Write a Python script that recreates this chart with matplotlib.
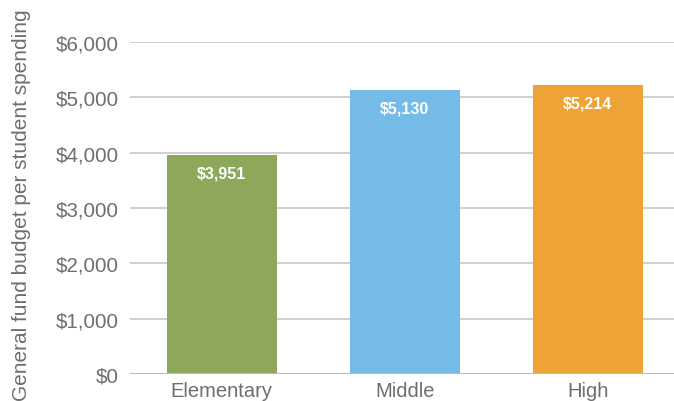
import matplotlib
matplotlib.use("Agg")
import matplotlib.pyplot as plt
from matplotlib.ticker import FuncFormatter

categories = ["Elementary", "Middle", "High"]
values = [3951, 5130, 5214]
colors = ["#8DA85B", "#74BCE7", "#EDA336"]
yticks = [0, 1000, 2000, 3000, 4000, 5000, 6000]

plt.rcParams['font.family'] = ['Liberation Sans', 'DejaVu Sans']
fig = plt.figure(figsize=(6.74, 4.02), dpi=100)
ax = fig.add_axes([130/674, 27/402, 1 - 130/674, 332/402])

x = list(range(len(categories)))
bars = ax.bar(x, values, width=0.6, color=colors, zorder=3)
ax.set_xlim(-0.5, 2.47)
ax.set_ylim(0, 6000)
ax.set_yticks(yticks)
ax.yaxis.set_major_formatter(FuncFormatter(lambda v, p: f"${int(v):,}"))
ax.set_xticks(x)
ax.set_xticklabels(categories)
ax.tick_params(axis='y', length=0, labelsize=14.8, colors='#6e6e6e', pad=8)
ax.tick_params(axis='x', length=0, labelsize=14.5, colors='#6e6e6e', pad=5)
ax.grid(axis='y', color='#cccccc', linewidth=1.3, zorder=0)
for s in ax.spines.values():
    s.set_visible(False)
ax.axhline(0, color='#bbbbbb', linewidth=1.5, zorder=4)
ax.set_ylabel("General fund budget per student spending", fontsize=15, color='#6e6e6e')
ax.yaxis.set_label_coords(-0.182, 0.51)

for xi, v in zip(x, values):
    ax.annotate(f"${v:,}", (xi, v), xytext=(0, -18), textcoords='offset pixels',
                ha='center', va='center', color='white', fontsize=11.5, fontweight='bold', zorder=5)

fig.savefig("out.png", dpi=100)
